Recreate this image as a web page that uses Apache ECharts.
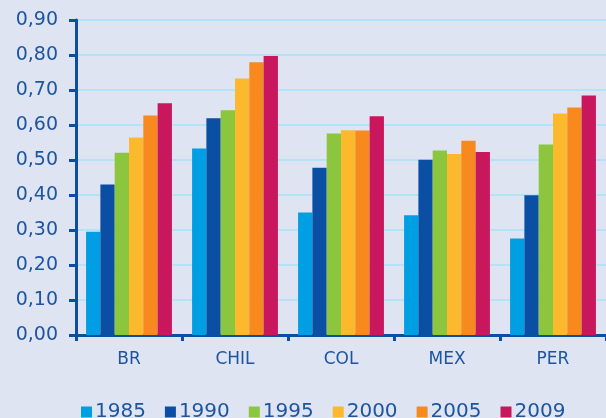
<!DOCTYPE html>
<html>
<head>
<meta charset="utf-8">
<script src="https://cdn.jsdelivr.net/npm/echarts@6/dist/echarts.min.js"></script>
<style>
html, body { margin: 0; padding: 0; background: #dfe4f2; }
#chart { width: 606px; height: 418px; }
</style>
</head>
<body>
<div id="chart"></div>
<script>
var countries = ['BR', 'CHIL', 'COL', 'MEX', 'PER'];
var years = ['1985', '1990', '1995', '2000', '2005', '2009'];
var colors = ['#009fe3', '#0a4fa3', '#8cc63f', '#fdb92e', '#f7891f', '#c8175d'];

// one array per year, in the order of countries
var v1985 = [0.295, 0.533, 0.350, 0.342, 0.276];
var v1990 = [0.430, 0.619, 0.478, 0.501, 0.399];
var v1995 = [0.521, 0.642, 0.576, 0.527, 0.544];
var v2000 = [0.564, 0.733, 0.585, 0.517, 0.633];
var v2005 = [0.627, 0.779, 0.584, 0.555, 0.650];
var v2009 = [0.662, 0.797, 0.625, 0.523, 0.684];
var values = [v1985, v1990, v1995, v2000, v2005, v2009];

var yTicks = [0, 0.1, 0.2, 0.3, 0.4, 0.5, 0.6, 0.7, 0.8, 0.9];

var textColor = '#1d55a0';
var axisColor = '#0c4ea2';

var myChart = echarts.init(document.getElementById('chart'));

var series = [];
for (var i = 0; i < years.length; i++) {
    series.push({
        name: years[i],
        type: 'bar',
        data: values[i],
        barGap: 0,
        barCategoryGap: '19%',
        itemStyle: {
            color: colors[i]
        }
    });
}

var option = {
    backgroundColor: '#dfe4f2',
    animation: false,
    color: colors,
    textStyle: { fontFamily: 'DejaVu Sans' },
    grid: {
        left: 76,
        right: 0,
        top: 20,
        bottom: 83
    },
    legend: {
        data: years,
        left: 76,
        top: 397,
        icon: 'rect',
        itemWidth: 11,
        itemHeight: 11,
        itemGap: 19,
        textStyle: {
            color: textColor,
            fontSize: 20,
            padding: [0, 0, 0, -2]
        }
    },
    xAxis: {
        type: 'category',
        data: countries,
        axisLine: { lineStyle: { color: axisColor, width: 3 } },
        axisTick: { show: true, length: 6, lineStyle: { color: axisColor, width: 3 } },
        axisLabel: { color: textColor, fontSize: 17, margin: 16 }
    },
    yAxis: {
        type: 'value',
        min: yTicks[0],
        max: yTicks[yTicks.length - 1],
        interval: 0.1,
        axisLine: { show: true, lineStyle: { color: axisColor, width: 3 } },
        axisTick: { show: true, length: 7, lineStyle: { color: axisColor, width: 3 } },
        axisLabel: {
            color: textColor,
            fontSize: 19,
            margin: 18,
            formatter: function (v) {
                return v.toFixed(2).replace('.', ',');
            }
        },
        splitLine: { show: true, lineStyle: { color: '#b3e3f6', width: 2 } }
    },
    series: series
};

myChart.setOption(option);
</script>
</body>
</html>
